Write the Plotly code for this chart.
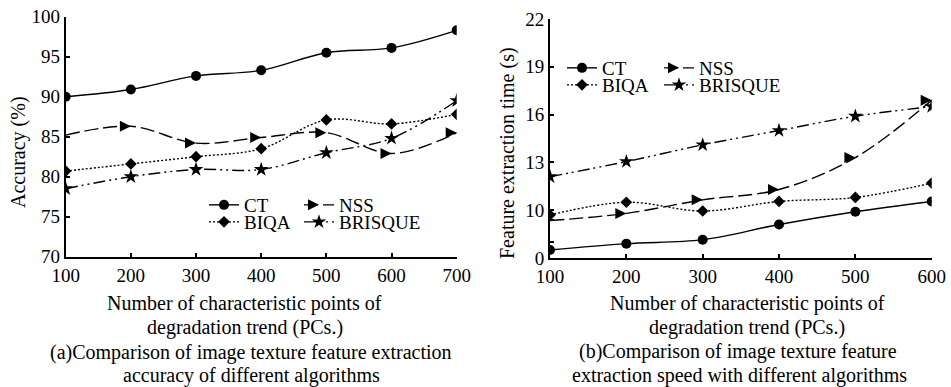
import plotly.graph_objects as go

# ---------------- data ----------------
x_a = [100, 200, 300, 400, 500, 600, 700]
ct_a = [90.0, 90.9, 92.6, 93.3, 95.5, 96.1, 98.3]
nss_a = [85.2, 86.3, 84.2, 84.9, 85.5, 82.9, 85.5]
biqa_a = [80.7, 81.6, 82.5, 83.5, 87.1, 86.6, 87.8]
brisque_a = [78.5, 80.0, 80.9, 80.9, 83.0, 84.8, 89.5]

x_b = [100, 200, 300, 400, 500, 600]
ct_b = [7.5, 7.9, 8.15, 9.1, 9.9, 10.55]
nss_b = [9.35, 9.8, 10.65, 11.3, 13.3, 16.9]
biqa_b = [9.7, 10.5, 9.95, 10.55, 10.8, 11.7]
brisque_b = [12.1, 13.05, 14.1, 15.0, 15.9, 16.5]

names = ["CT", "NSS", "BIQA", "BRISQUE"]
y_ticks_a = [70, 75, 80, 85, 90, 95, 100]
y_tickvals_b = [7, 8, 9.4, 10, 13, 16, 19, 22]
y_ticktext_b = ["0", "", "", "10", "13", "16", "19", "22"]

title_x_lines = ["Number of characteristic points of", "degradation trend (PCs.)"]
cap_a_lines = ["(a)Comparison of image texture feature extraction",
               "accuracy of different algorithms"]
cap_b_lines = ["(b)Comparison of image texture feature",
               "extraction speed with different algorithms"]
ytitle_a = "Accuracy (%)"
ytitle_b = "Feature extraction time (s)"

# ---------------- style ----------------
FONT = "Liberation Serif, Times New Roman, serif"
W, H = 951, 387
styles = {
    "CT": dict(dash="solid", symbol="circle", size=10),
    "NSS": dict(dash="14px,5px", symbol="arrow-right", size=11),
    "BIQA": dict(dash="2px,2px", symbol="diamond", size=9),
    "BRISQUE": dict(dash="12px,4px,2px,4px,2px,4px", symbol="star", size=11),
}

fig = go.Figure()

legend_ids = ["legend", "legend2", "legend3", "legend4",
              "legend5", "legend6", "legend7", "legend8"]

series_a = [ct_a, nss_a, biqa_a, brisque_a]
series_b = [ct_b, nss_b, biqa_b, brisque_b]

for i, (nm, ys) in enumerate(zip(names, series_a)):
    st = styles[nm]
    fig.add_trace(go.Scatter(
        x=x_a, y=ys, name=nm, mode="lines+markers",
        line=dict(color="black", width=1.4, dash=st["dash"], shape="spline", smoothing=1.0),
        marker=dict(color="black", symbol=st["symbol"], size=st["size"]),
        xaxis="x", yaxis="y", legend=legend_ids[i]))

for i, (nm, ys) in enumerate(zip(names, series_b)):
    st = styles[nm]
    fig.add_trace(go.Scatter(
        x=x_b, y=ys, name=nm, mode="lines+markers",
        line=dict(color="black", width=1.4, dash=st["dash"], shape="spline", smoothing=1.0),
        marker=dict(color="black", symbol=st["symbol"], size=st["size"]),
        xaxis="x2", yaxis="y2", legend=legend_ids[4 + i]))

def px_x(p):
    return p / W

def px_y(p):
    return 1 - p / H

axis_common = dict(
    showline=True, linecolor="black", linewidth=2,
    ticks="inside", ticklen=4, tickwidth=1.5, tickcolor="black",
    showgrid=False, zeroline=False, mirror=False, automargin=False,
    tickfont=dict(family=FONT, size=19, color="black"),
)

fig.update_layout(
    width=W, height=H,
    margin=dict(l=0, r=0, t=0, b=0, autoexpand=False),
    paper_bgcolor="white", plot_bgcolor="white",
    font=dict(family=FONT, size=20, color="black"),
    showlegend=True,
    xaxis=dict(domain=[px_x(65.7), px_x(456.7)], range=[100, 700],
               tickvals=x_a, anchor="y", **axis_common),
    yaxis=dict(domain=[px_y(256.7), px_y(16.7)], range=[70, 100],
               tickvals=y_ticks_a, anchor="x", **axis_common),
    xaxis2=dict(domain=[px_x(550), px_x(931.7)], range=[100, 600],
                tickvals=x_b, anchor="y2", **axis_common),
    yaxis2=dict(domain=[px_y(258), px_y(19)], range=[7, 22],
                tickvals=y_tickvals_b, ticktext=y_ticktext_b, anchor="x2", **axis_common),
)

# legends: one per entry for exact 2x2 placement
leg_pos = [
    (204, 205), (299, 205), (204, 222), (299, 222),
    (562, 68), (659, 68), (562, 85), (659, 85),
]
for lid, (lx, ly) in zip(legend_ids, leg_pos):
    fig.update_layout({lid: dict(
        x=px_x(lx), y=px_y(ly), xanchor="left", yanchor="middle",
        bgcolor="rgba(0,0,0,0)", borderwidth=0,
        font=dict(family=FONT, size=19, color="black"),
        itemclick=False, itemdoubleclick=False,
    )})

anns = [
    dict(text=title_x_lines[0], x=px_x(244), y=px_y(303)),
    dict(text=title_x_lines[1], x=px_x(245), y=px_y(327)),
    dict(text=cap_a_lines[0], x=px_x(251), y=px_y(352)),
    dict(text=cap_a_lines[1], x=px_x(251), y=px_y(375.5)),
    dict(text=title_x_lines[0], x=px_x(747), y=px_y(303)),
    dict(text=title_x_lines[1], x=px_x(747), y=px_y(327)),
    dict(text=cap_b_lines[0], x=px_x(738), y=px_y(351)),
    dict(text=cap_b_lines[1], x=px_x(739), y=px_y(375.5)),
    dict(text=ytitle_a, x=px_x(19), y=px_y(152), textangle=-90),
    dict(text=ytitle_b, x=px_x(507), y=px_y(153), textangle=-90),
]
for a in anns:
    fig.add_annotation(xref="paper", yref="paper", showarrow=False,
                       xanchor="center", yanchor="middle",
                       font=dict(family=FONT, size=20, color="black"), **a)

fig.write_html("out.html")
